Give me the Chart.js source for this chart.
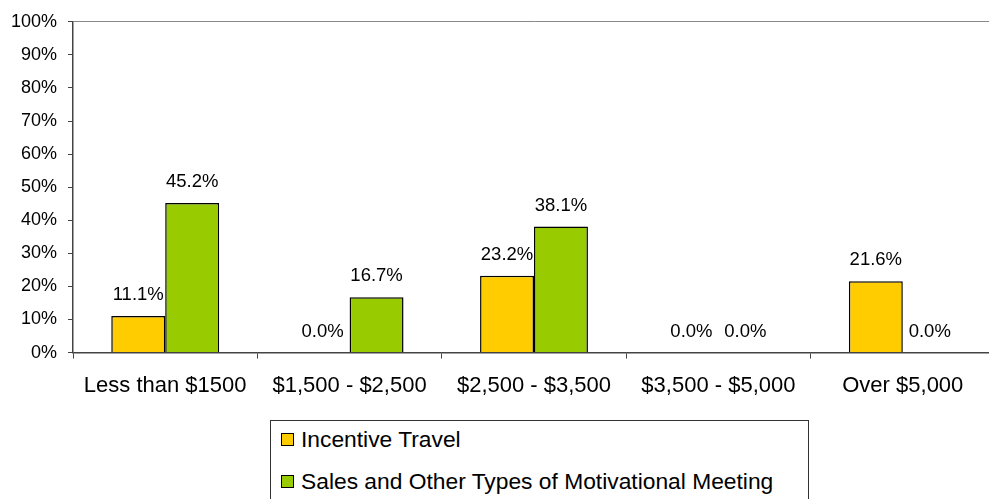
<!doctype html>
<html>
  <head>
    <script src="https://cdnjs.cloudflare.com/ajax/libs/Chart.js/4.4.0/chart.umd.min.js"></script>
    <style>
      html, body { margin: 0; padding: 0; background: #fff; overflow: hidden; }
      #wrap { position: relative; width: 989px; height: 499px; overflow: hidden; }
      #c1 { position: absolute; left: 0; top: 0; }
      #legend1 {
        position: absolute; left: 270px; top: 420px; width: 539px; height: 100px;
        border: 1px solid #333; box-sizing: border-box; background: #fff;
        font-family: "Liberation Sans", Arial, sans-serif; font-size: 22.8px; color: #000;
      }
      #legend1 .item { position: absolute; left: 10px; white-space: nowrap; line-height: 24px; }
      #legend1 .box {
        display: inline-block; width: 11px; height: 11px; border: 1px solid #000;
        margin-right: 7px; vertical-align: 1px;
      }
    </style>
    <script>
      let categories = ["Less than $1500", "$1,500 - $2,500", "$2,500 - $3,500", "$3,500 - $5,000", "Over $5,000"];
      let incentiveTravel = [11.1, 0.0, 23.2, 0.0, 21.6];
      let salesMeetings = [45.2, 16.7, 38.1, 0.0, 0.0];
      let seriesNames = ["Incentive Travel", "Sales and Other Types of Motivational Meeting"];
      let yTicks = [0, 10, 20, 30, 40, 50, 60, 70, 80, 90, 100];

      const fontName = '"Liberation Sans", Arial, sans-serif';

      // writes the value above every bar
      const barLabels = {
        id: 'barLabels',
        afterDatasetsDraw(chart) {
          const ctx = chart.ctx;
          ctx.save();
          ctx.font = '18.5px ' + fontName;
          ctx.fillStyle = '#000';
          ctx.textAlign = 'center';
          ctx.textBaseline = 'middle';
          chart.data.datasets.forEach((ds, i) => {
            chart.getDatasetMeta(i).data.forEach((bar, j) => {
              ctx.fillText(ds.data[j].toFixed(1) + '%', bar.x, bar.y - 21);
            });
          });
          ctx.restore();
        }
      };

      let chart1;
      function startPage() {
        chart1 = new Chart(document.getElementById("c1"), {
          type: 'bar',
          data: {
            labels: categories,
            datasets: [{
              label: seriesNames[0],
              data: incentiveTravel,
              backgroundColor: '#FFCC00',
              borderColor: '#000',
              borderWidth: 1.5
            }, {
              label: seriesNames[1],
              data: salesMeetings,
              backgroundColor: '#99CC00',
              borderColor: '#000',
              borderWidth: 1.5
            }]
          },
          options: {
            responsive: false,
            animation: false,
            events: [],
            layout: { padding: { left: 0, right: 5, top: 20, bottom: 0 } },
            datasets: { bar: { barPercentage: 1, categoryPercentage: 0.585 } },
            plugins: { legend: { display: false }, tooltip: { enabled: false } },
            scales: {
              x: {
                grid: { offset: true, drawOnChartArea: false, tickLength: 6, tickColor: '#444' },
                border: { color: '#444', width: 1.5 },
                ticks: { color: '#000', padding: 14, font: { family: fontName, size: 22 } }
              },
              y: {
                min: 0, max: 100,
                afterBuildTicks(scale) { scale.ticks = yTicks.map(v => ({ value: v })); },
                afterFit(scale) { scale.width = 73; },
                grid: {
                  tickLength: 5, tickColor: '#444',
                  color: c => (c.tick && c.tick.value === 100) ? '#888' : 'rgba(0,0,0,0)'
                },
                border: { color: '#444', width: 1.5 },
                ticks: {
                  color: '#000', padding: 11, font: { family: fontName, size: 18 },
                  callback: v => v + '%'
                }
              }
            }
          },
          plugins: [barLabels]
        });

        // legend box below the chart, one series per row
        const legend = document.getElementById("legend1");
        const fills = ['#FFCC00', '#99CC00'];
        seriesNames.forEach((name, i) => {
          const row = document.createElement('div');
          row.className = 'item';
          row.style.top = (6 + i * 42) + 'px';
          row.innerHTML = '<span class="box" style="background:' + fills[i] + '"></span>' + name;
          legend.appendChild(row);
        });
      }
    </script>
  </head>
  <body onload="startPage()">
    <div id="wrap">
      <canvas id="c1" width="1000" height="413"></canvas>
      <div id="legend1"></div>
    </div>
  </body>
</html>
